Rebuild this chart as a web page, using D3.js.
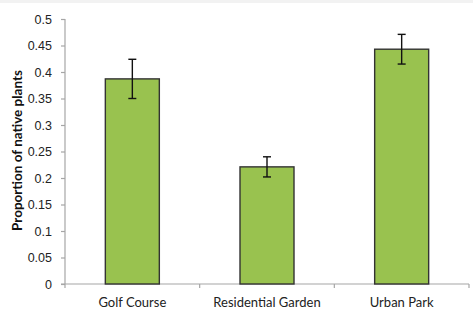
<!DOCTYPE html>
<html>
<head>
<meta charset="utf-8">
<script src="https://cdn.jsdelivr.net/npm/d3@7"></script>
<style>
  html, body { margin: 0; padding: 0; background: #fff; }
  svg { display: block; font-family: Lato, "Open Sans", sans-serif; }
</style>
</head>
<body>
<svg id="chart" width="473" height="324"></svg>
<script>
// Habitat categories and mean proportion of native plants, with standard errors
const categories = ["Golf Course", "Residential Garden", "Urban Park"];
const proportions = [0.387, 0.221, 0.443];
const errors = [0.037, 0.019, 0.028];
const yTicks = [0, 0.05, 0.1, 0.15, 0.2, 0.25, 0.3, 0.35, 0.4, 0.45, 0.5];

const svg = d3.select("#chart");
const margin = { left: 65, right: 4, top: 19, bottom: 40 };
const W = 473, H = 324;

// faint strip along the top edge
svg.append("rect").attr("x", 0).attr("y", 0).attr("width", W).attr("height", 3).attr("fill", "#f2f2f2");

const x = d3.scaleBand().domain(categories)
  .range([margin.left, W - margin.right]).paddingInner(0).paddingOuter(0);
const y = d3.scaleLinear().domain([0, 0.5]).range([H - margin.bottom, margin.top]);

const axisColor = "#a6a6a6";

// y axis
const yAxis = svg.append("g").attr("transform", `translate(${margin.left},0)`)
  .call(d3.axisLeft(y).tickValues(yTicks).tickSize(4).tickPadding(9)
    .tickFormat(d => d === 0 ? "0" : String(+d.toFixed(2))));
yAxis.select(".domain").attr("stroke", axisColor).attr("stroke-width", 1.2)
  .attr("d", `M0,${y(0)}V${y(0.5)}`);
yAxis.selectAll(".tick line").attr("stroke", axisColor).attr("stroke-width", 1.2);
yAxis.selectAll(".tick text").attr("fill", "#222").style("font-size", "12.5px");

// x axis with ticks at category boundaries
const xAxisG = svg.append("g").attr("transform", `translate(0,${y(0)})`);
xAxisG.append("line").attr("x1", margin.left - 4).attr("x2", W - margin.right)
  .attr("stroke", axisColor).attr("stroke-width", 1.2);
const boundaries = categories.map(c => x(c)).concat([x(categories[categories.length - 1]) + x.bandwidth()]);
xAxisG.selectAll(".bt").data(boundaries).enter().append("line")
  .attr("x1", d => d).attr("x2", d => d).attr("y1", 0).attr("y2", 4)
  .attr("stroke", axisColor).attr("stroke-width", 1.2);
xAxisG.selectAll(".cl").data(categories).enter().append("text")
  .attr("x", d => x(d) + x.bandwidth() / 2).attr("y", 23)
  .attr("text-anchor", "middle").attr("fill", "#222").style("font-size", "13px")
  .text(d => d);

// bars
const barW = 54;
svg.selectAll(".bar").data(categories).enter().append("rect")
  .attr("x", d => x(d) + x.bandwidth() / 2 - barW / 2)
  .attr("y", (d, i) => y(proportions[i]))
  .attr("width", barW)
  .attr("height", (d, i) => y(0) - y(proportions[i]))
  .attr("fill", "#99c24f").attr("stroke", "#333").attr("stroke-width", 1.4);

// error bars
const cap = 4;
const eb = svg.selectAll(".err").data(categories).enter().append("g")
  .attr("stroke", "#111").attr("stroke-width", 1.4);
eb.append("line")
  .attr("x1", d => x(d) + x.bandwidth() / 2).attr("x2", d => x(d) + x.bandwidth() / 2)
  .attr("y1", (d, i) => y(proportions[i] + errors[i]))
  .attr("y2", (d, i) => y(proportions[i] - errors[i]));
eb.append("line")
  .attr("x1", d => x(d) + x.bandwidth() / 2 - cap).attr("x2", d => x(d) + x.bandwidth() / 2 + cap)
  .attr("y1", (d, i) => y(proportions[i] + errors[i]))
  .attr("y2", (d, i) => y(proportions[i] + errors[i]));
eb.append("line")
  .attr("x1", d => x(d) + x.bandwidth() / 2 - cap).attr("x2", d => x(d) + x.bandwidth() / 2 + cap)
  .attr("y1", (d, i) => y(proportions[i] - errors[i]))
  .attr("y2", (d, i) => y(proportions[i] - errors[i]));

// y axis title
svg.append("text")
  .attr("transform", `translate(22,${(y(0) + y(0.5)) / 2 - 1}) rotate(-90)`)
  .attr("text-anchor", "middle").attr("fill", "#111")
  .style("font-size", "13.5px").style("font-weight", "bold")
  .text("Proportion of native plants");
</script>
</body>
</html>
